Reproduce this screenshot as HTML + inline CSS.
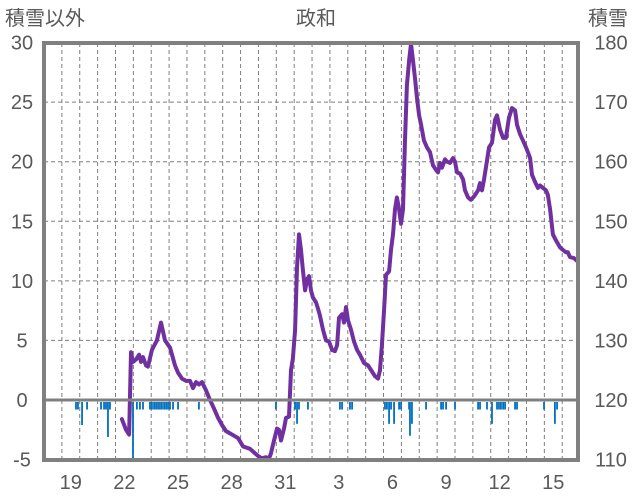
<!DOCTYPE html>
<html><head><meta charset="utf-8">
<style>
html,body{margin:0;padding:0;background:#fff;}
svg{display:block;}
text{font-family:"Liberation Sans","Noto Sans CJK JP",sans-serif;fill:#595959;}
</style></head>
<body>
<svg id="chart" width="636" height="501" viewBox="0 0 636 501" xmlns="http://www.w3.org/2000/svg">
<text x="5" y="25" font-size="20">積雪以外</text>
<text x="316" y="25" font-size="20" text-anchor="middle">政和</text>
<text x="588" y="25" font-size="20">積雪</text>
<g id="grid"></g>
<g id="bars"></g>
<g id="line"></g>
<g id="axes"></g>
</svg>
<script>
const lineTimes=[4.36,4.59,4.76,4.87,4.98,5.15,5.32,5.43,5.54,5.71,5.82,6.04,6.32,6.55,6.77,7.05,7.33,7.50,7.72,7.95,8.17,8.34,8.51,8.67,8.84,9.07,9.29,9.51,9.74,9.96,10.18,10.41,10.63,10.86,11.14,11.53,11.75,11.98,12.20,12.42,12.59,12.70,12.87,13.04,13.15,13.26,13.43,13.54,13.71,13.82,13.93,14.05,14.16,14.27,14.38,14.49,14.61,14.72,14.83,14.94,15.05,15.22,15.33,15.44,15.61,15.78,15.95,16.12,16.28,16.40,16.51,16.68,16.79,16.90,17.01,17.18,17.35,17.52,17.68,17.91,18.13,18.35,18.52,18.69,18.80,18.91,19.03,19.14,19.31,19.42,19.53,19.64,19.75,19.87,19.98,20.09,20.20,20.31,20.43,20.54,20.65,20.76,20.87,20.99,21.10,21.26,21.43,21.60,21.77,21.94,22.05,22.16,22.27,22.44,22.55,22.72,22.89,23.00,23.11,23.28,23.45,23.56,23.73,23.89,24.01,24.12,24.29,24.40,24.51,24.62,24.73,24.90,25.07,25.24,25.35,25.52,25.69,25.85,26.02,26.19,26.36,26.47,26.64,26.80,26.97,27.08,27.20,27.31,27.48,27.64,27.76,27.92,28.09,28.20,28.32,28.48,28.65,28.88,29.04,29.21,29.32,29.43,29.66,29.88];
const lineValues=[-1.6,-2.5,-2.9,4.0,3.2,3.4,3.8,3.2,3.6,2.9,2.8,4.2,5.0,6.5,5.0,4.4,2.9,2.3,1.8,1.6,1.6,1.0,1.5,1.3,1.5,0.8,0,-0.7,-1.5,-2.1,-2.6,-2.8,-3.0,-3.2,-3.9,-4.1,-4.4,-4.7,-4.9,-4.8,-4.9,-4.5,-3.4,-2.4,-2.5,-3.4,-2.4,-1.5,-1.4,2.5,3.5,5.9,11.1,13.9,12.6,10.9,9.2,10.1,10.4,9.2,8.6,8.2,7.7,7.1,5.9,5.0,4.9,4.2,4.1,4.6,6.9,7.2,6.5,7.8,6.7,5.9,4.9,4.2,3.8,3.1,2.9,2.4,2.0,1.8,2.5,4.6,7.6,10.5,10.8,12.6,13.9,16.0,17.0,16.0,14.8,16.0,21.8,26.4,28.5,29.9,28.5,27.0,25.4,23.9,23.1,21.8,21.2,20.8,19.7,19.3,19.1,19.9,19.5,20.2,20.0,19.9,20.3,20.0,19.1,19.0,18.5,17.6,17.0,16.8,17.0,17.2,17.6,18.2,17.6,18.5,19.5,21.2,21.6,23.5,23.9,22.7,22.0,22.0,23.7,24.5,24.3,23.1,22.3,21.8,21.2,20.8,20.3,18.9,18.3,17.8,18.0,17.8,17.6,17.2,16.0,13.9,13.4,12.8,12.6,12.4,12.4,12.0,11.9,11.6];
const barTimes=[1.79,1.90,2.13,2.41,3.19,3.36,3.47,3.58,3.69,4.98,5.20,5.37,5.54,5.93,6.04,6.16,6.27,6.38,6.49,6.60,6.72,6.83,6.94,7.05,7.22,7.50,8.67,12.98,14.05,14.16,14.27,14.77,16.56,16.68,17.12,17.24,19.08,19.19,19.31,19.42,19.59,19.87,19.98,20.43,20.48,20.59,21.38,22.22,22.33,22.50,23.00,24.29,24.40,24.79,25.07,25.35,25.46,25.57,25.69,25.80,26.36,26.47,27.98,28.59,28.71];
const barValues=[-0.8,-0.8,-2.1,-0.8,-0.8,-0.8,-0.8,-3.1,-0.8,-5,-0.8,-0.8,-0.8,-0.8,-0.8,-0.8,-0.8,-0.8,-0.8,-0.8,-0.8,-0.8,-0.8,-0.8,-0.8,-0.8,-0.8,-0.8,-0.8,-2,-0.8,-0.8,-0.8,-0.8,-0.8,-0.8,-0.8,-0.8,-2,-0.8,-2,-0.8,-0.8,-0.8,-3,-2,-0.8,-0.8,-0.8,-0.8,-0.8,-0.8,-0.8,-0.8,-2,-0.8,-0.8,-0.8,-0.8,-0.8,-0.8,-0.8,-0.8,-2,-0.8];
const leftTicks=[30,25,20,15,10,5,0,-5];
const rightTicks=[180,170,160,150,140,130,120,110];
const xLabels=["19","22","25","28","31","3","6","9","12","15"];
const xLabelIdx=[1,4,7,10,13,16,19,22,25,28];

const NS="http://www.w3.org/2000/svg";
const L=44,R=578,T=43,B=460,YEAR=17.87;
const xs=t=>L+t*YEAR;
const ys=v=>400-v*11.914;
function mk(tag,attrs,parent){const e=document.createElementNS(NS,tag);for(const k in attrs)e.setAttribute(k,attrs[k]);parent.appendChild(e);return e;}
const grid=document.getElementById('grid'),bars=document.getElementById('bars'),line=document.getElementById('line'),axes=document.getElementById('axes');
for(let i=1;i<30;i++){const x=xs(i);
 const g=mk('line',{x1:x,x2:x,y1:T,y2:B,stroke:'#7f7f7f','stroke-width':1,'stroke-dasharray':'4 3'},grid);
 
 }
leftTicks.forEach((v,i)=>{
 if(v!==0&&v!==30&&v!==-5){const g=mk('line',{x1:L,x2:R,y1:ys(v),y2:ys(v),stroke:'#7f7f7f','stroke-width':1,'stroke-dasharray':'4 3'},grid);
  
  }
 const t=mk('text',{x:22,y:ys(v)+7,'font-size':20,'text-anchor':'middle'},axes);t.textContent=String(v);
 
 
 const r=mk('text',{x:611,y:ys(v)+7,'font-size':20,'text-anchor':'middle'},axes);r.textContent=String(rightTicks[i]);
 
 
});
xLabels.forEach((s,i)=>{const t=mk('text',{x:xs(xLabelIdx[i]+0.5),y:489,'font-size':20,'text-anchor':'middle'},axes);t.textContent=s;
 
 });
barTimes.forEach((t,i)=>{const y0=402,y1=ys(barValues[i]);
 const b=mk('rect',{x:xs(t)-0.9,y:y0,width:1.8,height:Math.max(0,y1-y0),fill:'#0070c0'},bars);
 
 });
const zl=mk('line',{x1:L,x2:R,y1:ys(0),y2:ys(0),stroke:'#808080','stroke-width':3},axes);


const pts=lineTimes.map((t,i)=>xs(t).toFixed(1)+','+ys(lineValues[i]).toFixed(1)).join(' ');
const pl=mk('polyline',{points:pts,fill:'none',stroke:'#7030a0','stroke-width':4,'stroke-linejoin':'round','stroke-linecap':'round'},line);


const fr=mk('rect',{x:L,y:T,width:R-L,height:B-T,fill:'none',stroke:'#808080','stroke-width':4},axes);


</script>
</body></html>
